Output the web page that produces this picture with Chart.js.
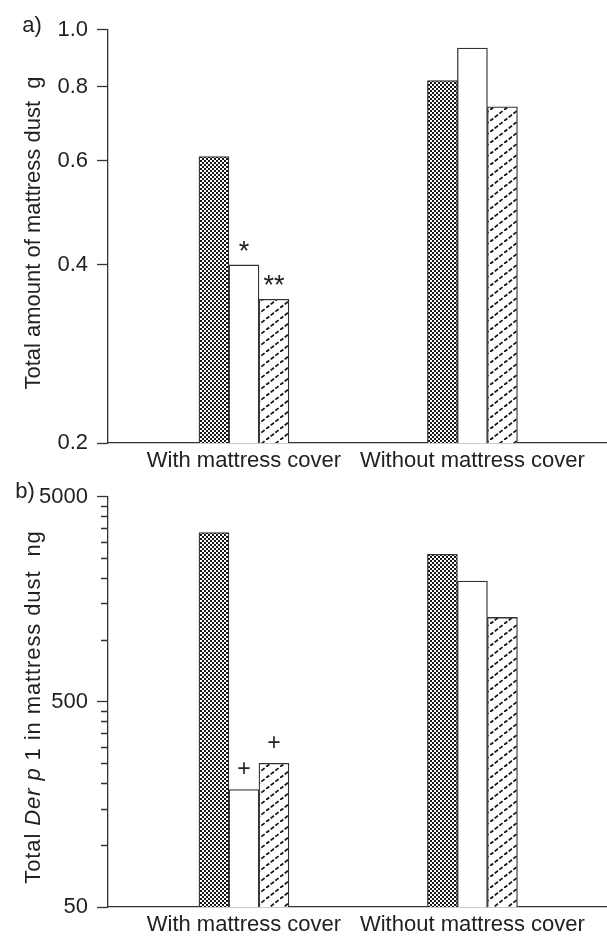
<!DOCTYPE html>
<html>
<head>
<meta charset="utf-8">
<script src="https://cdn.jsdelivr.net/npm/chart.js@4.4.0/dist/chart.umd.min.js"></script>
<style>
  html, body { margin: 0; padding: 0; background: #fff; }
  #page { position: relative; width: 607px; height: 941px; overflow: hidden;
    font-family: 'Liberation Sans', Arial, sans-serif; color: #222; }
  canvas { position: absolute; left: 0; }
  #chart-a { top: 0; }
  #chart-b { top: 470px; }
  .ytitle { position: absolute; white-space: pre; font-size: 22px; line-height: 1;
    transform: translate(-50%, -50%) rotate(-90deg); }
  .panel { position: absolute; font-size: 22px; line-height: 1; transform: translate(-50%, -50%); }
</style>
</head>
<body>
<div id="page">
  <canvas id="chart-a" width="607" height="478"></canvas>
  <canvas id="chart-b" width="607" height="471"></canvas>
  <div class="panel" style="left:32px; top:25px;">a)</div>
  <div class="panel" style="left:25px; top:491px;">b)</div>
  <div class="ytitle" style="left:33px; top:233px;">Total amount of mattress dust  g</div>
  <div class="ytitle" style="left:33px; top:707px; letter-spacing:0.9px;">Total <i>Der p</i> 1 in mattress dust  ng</div>
</div>
<script>
(function () {
  const categories = ['With mattress cover', 'Without mattress cover'];

  // a) total amount of mattress dust (g)
  const dustChecked = [0.61, 0.82];
  const dustOpen = [0.40, 0.93];
  const dustHatched = [0.35, 0.74];
  const dustTicks = [0.2, 0.4, 0.6, 0.8, 1.0];
  const dustMarks = [['', ''], ['*', ''], ['**', '']];

  // b) total Der p 1 in mattress dust (ng)
  const derChecked = [3340, 2620];
  const derOpen = [187, 1940];
  const derHatched = [251, 1290];
  const derTicks = [50, 100, 150, 200, 250, 300, 350, 400, 450, 500,
    1000, 1500, 2000, 2500, 3000, 3500, 4000, 4500, 5000];
  const derLabels = [50, 500, 5000];
  const derMarks = [['', ''], ['+', ''], ['+', '']];

  const ink = '#161616';
  const lineColor = '#333';

  Chart.defaults.font.family = "'Liberation Sans', Arial, sans-serif";
  Chart.defaults.font.size = 22;
  Chart.defaults.color = '#222';

  function checkerPattern() {
    const c = document.createElement('canvas');
    c.width = 4;
    c.height = 4;
    const g = c.getContext('2d');
    g.fillStyle = '#fff';
    g.fillRect(0, 0, 4, 4);
    g.fillStyle = ink;
    g.fillRect(0, 0, 2, 2);
    g.fillRect(2, 2, 2, 2);
    return g.createPattern(c, 'repeat');
  }

  function hatchPattern() {
    const w = 14;
    const h = 11;
    const c = document.createElement('canvas');
    c.width = w;
    c.height = h;
    const g = c.getContext('2d');
    g.fillStyle = '#fff';
    g.fillRect(0, 0, w, h);
    const step = Math.hypot(w, h) / 3;
    g.strokeStyle = ink;
    g.lineWidth = 1.8;
    g.setLineDash([step * 0.7, step * 0.3]);
    g.beginPath();
    g.moveTo(-w, 2 * h);
    g.lineTo(2 * w, -h);
    g.stroke();
    return g.createPattern(c, 'repeat');
  }

  const fills = [checkerPattern(), '#fff', hatchPattern()];

  function toPoints(values) {
    return values.map((v, i) => ({ x: i + 1, y: v }));
  }

  function barSet(values, index) {
    return {
      data: toPoints(values),
      backgroundColor: fills[index],
      borderColor: lineColor,
      borderWidth: 1.3,
      borderSkipped: 'start',
      barThickness: 30,
    };
  }

  // significance marks drawn above the bars, at the bars' own positions
  const marksPlugin = {
    id: 'marks',
    afterDatasetsDraw(chart, args, opts) {
      const ctx = chart.ctx;
      ctx.save();
      ctx.font = `${opts.size}px 'Liberation Sans', Arial, sans-serif`;
      ctx.fillStyle = '#222';
      ctx.textAlign = 'center';
      ctx.textBaseline = 'alphabetic';
      opts.marks.forEach((row, di) => {
        const meta = chart.getDatasetMeta(di);
        row.forEach((mark, i) => {
          if (!mark) return;
          const bar = meta.data[i];
          ctx.fillText(mark, bar.x, bar.y - opts.gap);
        });
      });
      ctx.restore();
    },
  };

  function xAxis(height) {
    return {
      type: 'linear',
      offset: false,
      min: 0.405,
      max: 2.589,
      afterBuildTicks: (scale) => {
        scale.ticks = categories.map((c, i) => ({ value: i + 1 }));
      },
      afterFit: (scale) => {
        scale.height = height;
      },
      ticks: {
        callback: (value) => categories[Math.round(value) - 1],
        padding: 5,
        maxRotation: 0,
        autoSkip: false,
      },
      grid: { display: true, offset: false, drawOnChartArea: false, drawTicks: false },
      border: { color: lineColor, width: 1.3 },
    };
  }

  function makeChart(el, datasets, yScale, padTop, xHeight, marks) {
    return new Chart(el, {
      type: 'bar',
      data: { datasets },
      options: {
        responsive: false,
        animation: false,
        devicePixelRatio: 1,
        layout: { padding: { top: padTop, right: 0, bottom: 0, left: 0 } },
        plugins: {
          legend: { display: false },
          tooltip: { enabled: false },
          marks,
        },
        scales: { x: xAxis(xHeight), y: yScale },
      },
      plugins: [marksPlugin],
    });
  }

  makeChart(
    document.getElementById('chart-a'),
    [barSet(dustChecked, 0), barSet(dustOpen, 1), barSet(dustHatched, 2)],
    {
      type: 'logarithmic',
      min: 0.2,
      max: 1.0,
      afterBuildTicks: (scale) => {
        scale.ticks = dustTicks.map((v) => ({ value: v }));
      },
      afterFit: (scale) => {
        scale.width = 108;
      },
      ticks: { callback: (value) => Number(value).toFixed(1), padding: 9, autoSkip: false },
      grid: { drawOnChartArea: false, tickLength: 11, tickColor: lineColor, tickWidth: 1.3 },
      border: { color: lineColor, width: 1.3 },
    },
    29.5,
    35,
    { marks: dustMarks, size: 27, gap: 5 }
  );

  makeChart(
    document.getElementById('chart-b'),
    [barSet(derChecked, 0), barSet(derOpen, 1), barSet(derHatched, 2)],
    {
      type: 'logarithmic',
      min: 50,
      max: 5000,
      afterBuildTicks: (scale) => {
        scale.ticks = derTicks.map((v) => ({ value: v }));
      },
      afterFit: (scale) => {
        scale.width = 108;
      },
      ticks: {
        callback: (value) => (derLabels.includes(Math.round(value)) ? String(Math.round(value)) : ''),
        padding: 9,
        autoSkip: false,
      },
      grid: {
        drawOnChartArea: false,
        tickLength: 11,
        tickColor: lineColor,
        tickWidth: 1.3,
        // minor ticks: leave the outer 4px blank so they come out shorter
        tickBorderDash: (ctx) => (derLabels.includes(Math.round(ctx.tick.value)) ? [] : [0, 4, 20, 0]),
      },
      border: { color: lineColor, width: 1.3 },
    },
    26.7,
    34,
    { marks: derMarks, size: 23, gap: 13 }
  );
})();
</script>
</body>
</html>
